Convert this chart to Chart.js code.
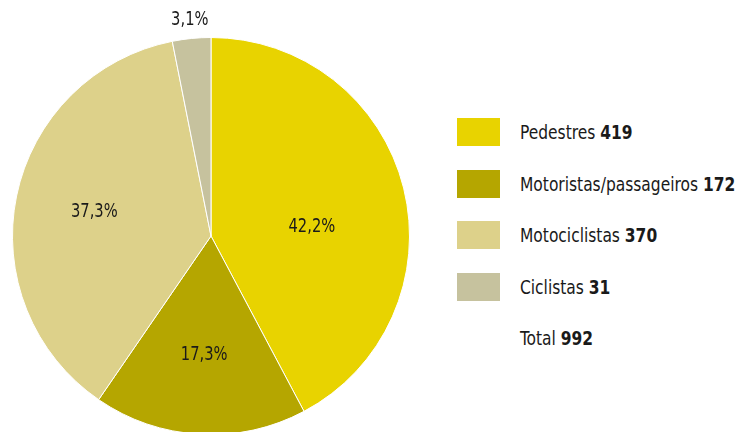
<!DOCTYPE html>
<html><head><meta charset="utf-8">
<script src="https://cdn.jsdelivr.net/npm/chart.js@4"></script>
<style>
html,body{margin:0;padding:0;width:739px;height:432px;overflow:hidden;background:#fff;}
#wrap{position:absolute;left:0;top:0;width:422px;height:472px;}
#legend{position:absolute;left:457px;top:118px;font-family:"DejaVu Sans Condensed","DejaVu Sans",sans-serif;font-stretch:condensed;font-size:20px;color:#1a1a1a;white-space:nowrap;}
.row{display:flex;align-items:center;height:28px;margin-bottom:23.5px;}
.sw{width:43px;height:28px;margin-right:20px;flex:none;}
.row span{display:inline-block;transform:scaleX(0.86);transform-origin:left center;}
.row b{font-weight:bold;}
</style></head><body>
<div id="wrap"><canvas id="c" width="422" height="472"></canvas></div>
<div id="legend"></div>
<script>
const categories = ["Pedestres", "Motoristas/passageiros", "Motociclistas", "Ciclistas"];
const values = [419, 172, 370, 31];
const percentLabels = ["42,2%", "17,3%", "37,3%", "3,1%"];
const colors = ["#E8D300", "#B5A600", "#DDD18A", "#C6C29E"];
const totalLabel = "Total";
const totalValue = 992;

// legend
const lg = document.getElementById('legend');
categories.forEach((c,i)=>{
  const r=document.createElement('div');r.className='row';
  r.innerHTML='<div class="sw" style="background:'+colors[i]+'"></div><span>'+c+' <b>'+values[i]+'</b></span>';
  lg.appendChild(r);
});
const tr=document.createElement('div');tr.className='row';
tr.innerHTML='<div class="sw"></div><span>'+totalLabel+' <b>'+totalValue+'</b></span>';
lg.appendChild(tr);

const labelPlugin = {
  id:'pctLabels',
  afterDatasetsDraw(chart){
    const ctx=chart.ctx;
    const meta=chart.getDatasetMeta(0);
    ctx.save();
    ctx.font='19px "DejaVu Sans Condensed","DejaVu Sans",sans-serif';
    ctx.fillStyle='#1a1a1a';
    ctx.textAlign='center';ctx.textBaseline='middle';
    meta.data.forEach((arc,i)=>{
      const p=arc.getProps(['x','y','startAngle','endAngle','outerRadius'],true);
      const mid=(p.startAngle+p.endAngle)/2;
      const frac=(p.endAngle-p.startAngle)/(2*Math.PI);
      let a=mid, rr=p.outerRadius*0.6;
      if(frac<0.05){ rr=p.outerRadius+18; }
      else if(frac>0.4){ a=mid+0.157; rr=p.outerRadius*0.51; }
      const x=p.x+Math.cos(a)*rr, y=p.y+Math.sin(a)*rr;
      ctx.save();ctx.translate(x,y);ctx.scale(0.86,1);
      ctx.fillText(percentLabels[i],0,0);
      ctx.restore();
    });
    ctx.restore();
  }
};

new Chart(document.getElementById('c'),{
  type:'pie',
  data:{labels:categories,datasets:[{data:values,backgroundColor:colors,borderColor:'#ffffff',borderWidth:1}]},
  options:{
    responsive:false,animation:false,
    layout:{padding:{top:37,bottom:37,left:12,right:12}},
    plugins:{legend:{display:false},tooltip:{enabled:false}}
  },
  plugins:[labelPlugin]
});
</script>
</body></html>
